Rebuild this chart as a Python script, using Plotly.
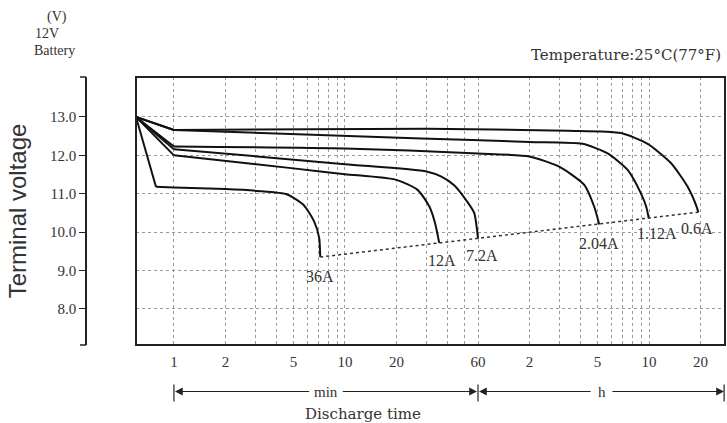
import math
import plotly.graph_objects as go

# ---------------- data (time in minutes, voltage in V) ----------------
t_36a = [0.6, 0.785, 1, 2, 3.1, 4.6, 5.75, 6.6, 7.07, 7.17]
v_36a = [13.0, 11.18, 11.16, 11.12, 11.07, 10.98, 10.7, 10.28, 9.85, 9.35]

t_12a = [0.6, 1, 5, 10, 20, 26.6, 30.4, 31.8, 33.8, 35.6]
v_12a = [13.0, 12.0, 11.66, 11.51, 11.36, 11.1, 10.75, 10.58, 10.2, 9.72]

t_7a2 = [0.6, 1, 10, 30, 36.4, 43.5, 51, 57, 60]
v_7a2 = [13.0, 12.16, 11.77, 11.58, 11.45, 11.22, 10.84, 10.5, 9.83]

t_2a04 = [0.6, 1, 10, 60, 120, 180, 251, 287, 307]
v_2a04 = [13.0, 12.23, 12.18, 12.05, 11.97, 11.7, 11.23, 10.66, 10.2]

t_1a12 = [0.6, 1, 28, 120, 245, 344, 450, 538, 578, 598]
v_1a12 = [13.0, 12.66, 12.44, 12.35, 12.3, 12.05, 11.62, 11.01, 10.66, 10.36]

t_0a6 = [0.6, 1, 30, 200, 411, 589, 806, 1010, 1140, 1165]
v_0a6 = [13.0, 12.66, 12.69, 12.64, 12.58, 12.3, 11.8, 11.18, 10.66, 10.52]

curve_names = ["36A", "12A", "7.2A", "2.04A", "1.12A", "0.6A"]
curve_t = [t_36a, t_12a, t_7a2, t_2a04, t_1a12, t_0a6]
curve_v = [v_36a, v_12a, v_7a2, v_2a04, v_1a12, v_0a6]
# label anchor offsets (pixels) relative to each curve's end point
label_dx = [0, 3, 4, 0, 8, -1]
label_dy = [19, 18, 17, 19, 15, 16]

x_grid = [1, 2, 3, 4, 5, 6, 7, 8, 9, 10, 20, 30, 40, 50, 60,
          120, 180, 240, 300, 360, 420, 480, 540, 600, 1200]
x_labels = {1: "1", 2: "2", 5: "5", 10: "10", 20: "20", 60: "60",
            120: "2", 300: "5", 600: "10", 1200: "20"}
y_ticks = [8, 9, 10, 11, 12, 13]
y_ticktext = ["8.0", "9.0", "10.0", "11.0", "12.0", "13.0"]

# ---------------- figure ----------------
W, H = 727, 423
SERIF = "Liberation Serif, Times New Roman, serif"
WIDE_SERIF = "DejaVu Serif, serif"
SANS = "Liberation Sans, Arial, sans-serif"
INK = "#222222"
TXT = "#333333"
GRID = "#9a9a9a"

x_left_px, x_right_px = 136, 725
y_top_px, y_bot_px = 77, 345
decade_px = 171.0
x0 = math.log10(0.6)
x1 = x0 + (x_right_px - x_left_px) / decade_px
y_axis_px = 86


def xdom(t):
    """fraction of the x-axis domain for time t (minutes) on the log axis"""
    return (math.log10(t) - x0) / (x1 - x0)


fig = go.Figure()

for name, t, v in zip(curve_names, curve_t, curve_v):
    # initial straight drop
    fig.add_trace(go.Scatter(x=t[:2], y=v[:2], mode="lines",
                             line=dict(color="#111111", width=2),
                             showlegend=False, hoverinfo="skip"))
    # plateau and knee
    fig.add_trace(go.Scatter(x=t[1:], y=v[1:], mode="lines", name=name,
                             line=dict(color="#111111", width=2,
                                       shape="spline", smoothing=0.6),
                             showlegend=False))

# dotted end-of-discharge line through the curve end points
fig.add_trace(go.Scatter(x=[t[-1] for t in curve_t], y=[v[-1] for v in curve_v],
                         mode="lines", line=dict(color="#333333", width=1.5, dash="dot"),
                         showlegend=False, hoverinfo="skip"))

ann = []
for name, t, v, dx, dy in zip(curve_names, curve_t, curve_v, label_dx, label_dy):
    ann.append(dict(x=math.log10(t[-1]), y=v[-1], xref="x", yref="y", text=name,
                    showarrow=False, xshift=dx, yshift=-dy,
                    xanchor="center", yanchor="middle",
                    font=dict(family=SERIF, size=16, color=TXT)))

# top-left unit label
for txt, xp, yp in [("(V)", 45, 17), ("12V", 33, 33), ("Battery", 32, 51)]:
    ann.append(dict(x=xp / W, y=1 - yp / H, xref="paper", yref="paper", text=txt,
                    showarrow=False, xanchor="left", yanchor="middle",
                    font=dict(family=SERIF, size=14, color=TXT)))

ann.append(dict(x=723 / W, y=1 - 55 / H, xref="paper", yref="paper",
                text="Temperature:25°C(77°F)", showarrow=False,
                xanchor="right", yanchor="middle",
                font=dict(family=WIDE_SERIF, size=15, color=TXT)))

ann.append(dict(x=363 / W, y=1 - 414 / H,
                xref="paper", yref="paper", text="Discharge time",
                showarrow=False, xanchor="center", yanchor="middle",
                font=dict(family=WIDE_SERIF, size=15, color=TXT)))

# min / h arrows (positions as fractions of the x-axis domain)
arrow_y = 1 - 391.5 / H
d1, d60, dend = xdom(1), xdom(60), 1.0
cmin = (d1 + d60) / 2
ch = (d60 + dend) / 2
gap_min, gap_h = 0.026, 0.016
ann.append(dict(x=cmin, y=arrow_y, xref="x domain", yref="paper", text="min",
                showarrow=False, xanchor="center", yanchor="middle",
                font=dict(family=SERIF, size=15, color=TXT)))
ann.append(dict(x=ch, y=arrow_y, xref="x domain", yref="paper", text="h",
                showarrow=False, xanchor="center", yanchor="middle",
                font=dict(family=SERIF, size=15, color=TXT)))
span = x_right_px - x_left_px
for tip, tail in [(d1, cmin - gap_min), (d60, cmin + gap_min),
                  (d60, ch - gap_h), (dend, ch + gap_h)]:
    ann.append(dict(x=tip, y=arrow_y, xref="x domain", yref="paper",
                    ax=(tail - tip) * span, ay=0, axref="pixel", ayref="pixel",
                    text="", showarrow=True, arrowhead=2, arrowsize=1.3,
                    arrowwidth=1.2, arrowcolor=INK, standoff=1, startstandoff=0))

shapes = [
    # plot frame
    dict(type="rect", xref="x domain", yref="y domain", x0=0, x1=1, y0=0, y1=1,
         line=dict(color=INK, width=2), layer="above"),
    # ends of the detached y axis
    dict(type="line", xref="paper", yref="y domain",
         x0=(y_axis_px - 6) / W, x1=y_axis_px / W, y0=1, y1=1,
         line=dict(color=INK, width=1.5)),
    dict(type="line", xref="paper", yref="y domain",
         x0=(y_axis_px - 6) / W, x1=y_axis_px / W, y0=0, y1=0,
         line=dict(color=INK, width=1.5)),
]
for xb in [d1, d60, dend - 0.0015]:
    shapes.append(dict(type="line", xref="x domain", yref="paper", x0=xb, x1=xb,
                       y0=1 - 401.5 / H, y1=1 - 384.5 / H,
                       line=dict(color=INK, width=1.2)))

fig.update_layout(
    width=W, height=H,
    margin=dict(l=0, r=0, t=0, b=0),
    paper_bgcolor="white", plot_bgcolor="white",
    showlegend=False,
    annotations=ann, shapes=shapes,
    xaxis=dict(type="log", domain=[x_left_px / W, x_right_px / W], range=[x0, x1],
               tickmode="array", tickvals=x_grid,
               ticktext=[x_labels.get(g, "") for g in x_grid],
               showgrid=True, gridcolor=GRID, griddash="dot", gridwidth=1,
               showline=False, zeroline=False, ticks="",
               ticklabelstandoff=6,
               tickfont=dict(family=SERIF, size=15, color=TXT),
               automargin=False),
    yaxis=dict(domain=[1 - y_bot_px / H, 1 - y_top_px / H], range=[7.06, 14.04],
               anchor="free", position=y_axis_px / W,
               tickmode="array", tickvals=y_ticks, ticktext=y_ticktext,
               showgrid=True, gridcolor=GRID, griddash="dot", gridwidth=1,
               showline=True, linecolor=INK, linewidth=1.5,
               ticks="outside", ticklen=6, tickcolor=INK, tickwidth=1.2,
               zeroline=False,
               tickfont=dict(family=SERIF, size=15, color=TXT),
               title=dict(text="Terminal voltage", standoff=16,
                          font=dict(family=SANS, size=24, color=TXT)),
               automargin=False),
)

fig.write_html("out.html",
               config={"displayModeBar": False},
               post_script="document.body.style.margin='0px';")
